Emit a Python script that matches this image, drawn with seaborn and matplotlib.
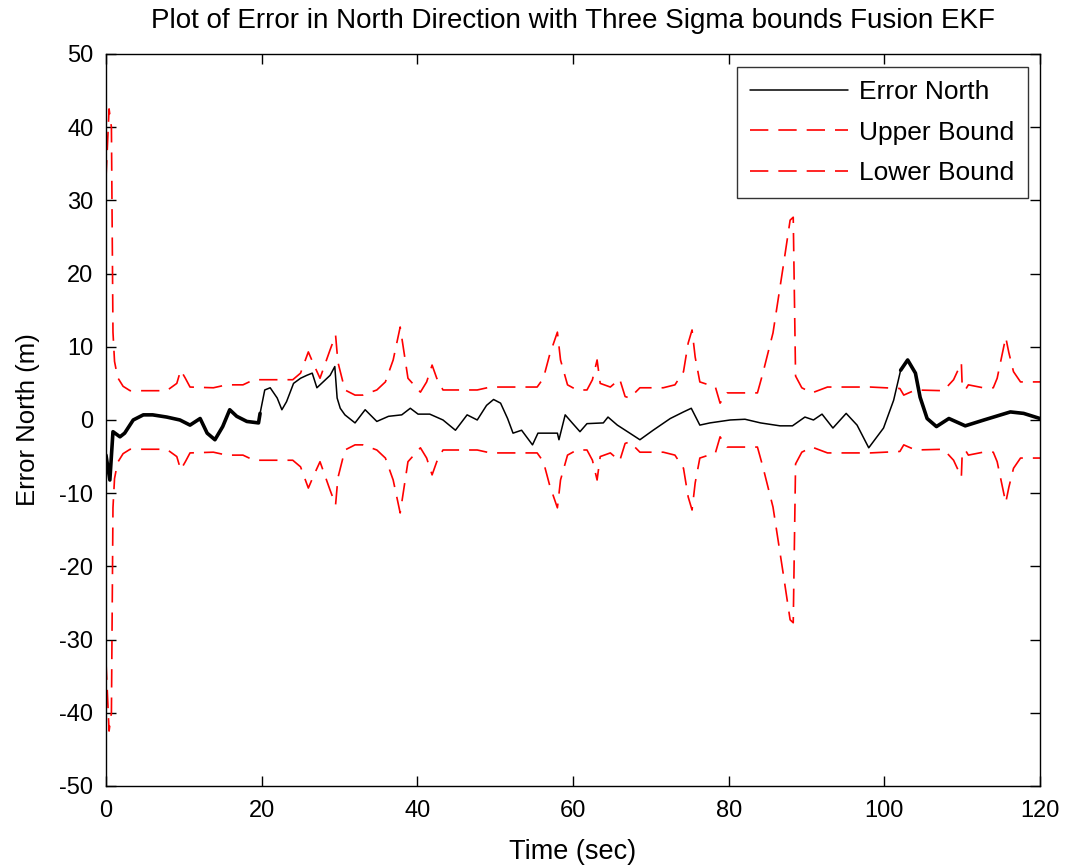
import numpy as np
import pandas as pd
import matplotlib
matplotlib.use("Agg")
import matplotlib.pyplot as plt
import seaborn as sns

# error in north direction (m)
t_err = [0, 0.5, 0.9, 1.8, 2.4, 3.5, 4.8, 6.0, 7.8, 9.5, 10.8, 12.1, 13.0, 14.0, 15.0,
         15.9, 16.8, 18.1, 19.6, 19.8, 20.4, 21.1, 22.0, 22.6, 23.2, 24.1, 25.0, 25.8,
         26.5, 27.1, 27.9, 28.8, 29.4, 29.7, 30.1, 30.7, 32.0, 33.3, 34.8, 36.3, 38.0,
         39.1, 40.1, 41.6, 43.3, 44.9, 46.4, 47.7, 48.9, 49.8, 50.7, 51.6, 52.3, 53.4,
         54.8, 55.5, 58.0, 58.2, 59.0, 59.9, 60.9, 61.8, 63.9, 64.5, 65.7, 67.3, 68.6,
         70.3, 72.5, 74.2, 75.2, 76.3, 77.6, 80.2, 82.1, 84.1, 86.6, 88.2, 89.8, 90.9,
         92.0, 93.4, 95.1, 96.5, 98.0, 99.9, 101.2, 102.1, 103.0, 104.0, 104.6, 105.5,
         106.7, 108.3, 110.4, 112.8, 116.2, 117.9, 120.0]
err_north = [-4.8, -8.2, -1.6, -2.3, -1.8, 0.0, 0.7, 0.7, 0.4, 0.0, -0.7, 0.2, -1.8, -2.7, -0.9,
             1.4, 0.5, -0.2, -0.4, 0.9, 4.1, 4.4, 3.0, 1.4, 2.5, 5.0, 5.7, 6.1,
             6.4, 4.4, 5.2, 6.1, 7.3, 3.0, 1.6, 0.7, -0.4, 1.4, -0.2, 0.5, 0.7,
             1.6, 0.8, 0.8, 0.0, -1.4, 0.7, 0.0, 2.0, 2.8, 2.3, 0.2, -1.8, -1.4,
             -3.4, -1.8, -1.8, -2.7, 0.7, -0.4, -1.6, -0.5, -0.4, 0.4, -0.7, -1.8, -2.7,
             -1.4, 0.2, 1.1, 1.6, -0.7, -0.4, 0.0, 0.1, -0.4, -0.8, -0.8, 0.4, 0.0,
             0.8, -1.1, 0.9, -0.7, -3.8, -1.1, 2.7, 6.8, 8.2, 6.4, 3.1, 0.2,
             -0.9, 0.2, -0.8, 0.0, 1.1, 0.9, 0.2]

# three sigma bounds
t_bound = [0, 0.4, 0.7, 0.9, 1.1, 1.5, 2.2, 3.1, 7.8, 9.1, 9.6, 10.2, 10.8, 13.8, 15.5,
           17.6, 19.0, 20.7, 24.0, 25.0, 26.0, 26.6, 27.5, 28.8, 29.5, 29.8, 30.7, 32.0,
           33.0, 34.8, 35.9, 36.9, 37.8, 38.4, 38.8, 40.4, 41.2, 41.9, 42.5, 43.3, 47.7,
           49.4, 55.4, 56.2, 57.0, 58.0, 58.4, 59.3, 60.5, 61.8, 62.5, 63.1, 63.5, 64.8,
           66.0, 66.7, 67.3, 68.6, 71.6, 73.1, 74.2, 74.8, 75.3, 75.7, 76.3, 78.3, 78.9,
           79.8, 83.7, 84.4, 85.7, 87.0, 87.9, 88.3, 88.6, 89.4, 90.7, 92.7, 98.2, 102.0,
           102.5, 104.0, 107.6, 108.9, 109.9, 110.0, 110.4, 110.8, 112.7, 114.0, 114.5,
           115.6, 116.0, 116.6, 117.5, 120.0]
upper_bound = [33, 42.5, 40, 12, 8, 5.8, 4.6, 4.0, 4.0, 5.0, 6.8, 5.7, 4.5, 4.4, 4.8,
               4.8, 5.5, 5.5, 5.5, 6.4, 9.3, 7.8, 5.7, 9.6, 11.6, 7.9, 4.1, 3.4,
               3.4, 4.1, 5.2, 8.2, 12.7, 8.5, 5.7, 3.8, 5.2, 7.5, 5.7, 4.1, 4.1,
               4.5, 4.5, 5.7, 8.9, 12.0, 8.2, 4.8, 4.1, 4.1, 5.5, 8.2, 5.0, 4.5,
               5.6, 3.2, 3.0, 4.4, 4.4, 4.8, 6.6, 10.5, 12.3, 8.6, 5.2, 4.5, 2.3,
               3.7, 3.7, 6.4, 11.9, 20.9, 27.3, 27.7, 6.0, 4.4, 3.7, 4.5, 4.5, 4.3,
               3.4, 4.1, 4.0, 5.5, 7.8, 4.8, 4.1, 4.8, 4.4, 4.4, 5.7,
               11.3, 9.2, 6.6, 5.2, 5.2]
lower_bound = [-33, -42.5, -40, -12, -8, -5.8, -4.6, -4.0, -4.0, -5.0, -6.8, -5.7, -4.5, -4.4, -4.8,
               -4.8, -5.5, -5.5, -5.5, -6.4, -9.3, -7.8, -5.7, -9.6, -11.6, -7.9, -4.1, -3.4,
               -3.4, -4.1, -5.2, -8.2, -12.7, -8.5, -5.7, -3.8, -5.2, -7.5, -5.7, -4.1, -4.1,
               -4.5, -4.5, -5.7, -8.9, -12.0, -8.2, -4.8, -4.1, -4.1, -5.5, -8.2, -5.0, -4.5,
               -5.6, -3.2, -3.0, -4.4, -4.4, -4.8, -6.6, -10.5, -12.3, -8.6, -5.2, -4.5, -2.3,
               -3.7, -3.7, -6.4, -11.9, -20.9, -27.3, -27.7, -6.0, -4.4, -3.7, -4.5, -4.5, -4.3,
               -3.4, -4.1, -4.0, -5.5, -7.8, -4.8, -4.1, -4.8, -4.4, -4.4, -5.7,
               -11.3, -9.2, -6.6, -5.2, -5.2]

err_df = pd.DataFrame({"t": t_err, "err": err_north})
bound_df = pd.DataFrame({"t": t_bound, "upper": upper_bound, "lower": lower_bound})

sns.set_style("white")
plt.rcParams["font.family"] = ["Liberation Sans", "DejaVu Sans"]
plt.rcParams["axes.unicode_minus"] = False
for key in ["text.color", "axes.labelcolor", "xtick.color", "ytick.color"]:
    plt.rcParams[key] = "black"

fig = plt.figure(figsize=(10.65, 8.68), dpi=100)
ax = fig.add_axes([0.0995, 0.0945, 0.877, 0.8433])

sns.lineplot(data=err_df, x="t", y="err", ax=ax, color="black", linewidth=1.1,
             label="Error North", estimator=None, sort=False)
# the noisy parts of the trace look thicker in the original
early = err_df[err_df["t"] <= 19.8]
late = err_df[err_df["t"] >= 102]
for part in [early, late]:
    sns.lineplot(data=part, x="t", y="err", ax=ax, color="black", linewidth=2.6,
                 estimator=None, sort=False, legend=False)
sns.lineplot(data=bound_df, x="t", y="upper", ax=ax, color="red", linewidth=1.2,
             label="Upper Bound", estimator=None, sort=False)
sns.lineplot(data=bound_df, x="t", y="lower", ax=ax, color="red", linewidth=1.2,
             label="Lower Bound", estimator=None, sort=False)
for ln in ax.lines[3:]:
    ln.set_dashes((11, 6))

ax.set_xlim(0, 120)
ax.set_ylim(-50, 50)
ax.set_xticks(np.arange(0, 121, 20))
ax.set_yticks(np.arange(-50, 51, 10))
ax.tick_params(direction="in", length=7, width=1, labelsize=17, top=True, right=True,
               bottom=True, left=True)
ax.tick_params(axis="x", pad=10)
ax.tick_params(axis="y", pad=9)
for s in ax.spines.values():
    s.set_color("black")
    s.set_linewidth(1)

ax.set_title("Plot of Error in North Direction with Three Sigma bounds Fusion EKF",
             fontsize=20, pad=19)
ax.set_xlabel("Time (sec)", fontsize=19.5, labelpad=12)
ax.set_ylabel("Error North (m)", fontsize=18.5, labelpad=14)

leg = ax.legend(loc="upper right", fontsize=19, frameon=True, fancybox=False,
                handlelength=3.7, handletextpad=0.45, labelspacing=0.62, borderpad=0.5,
                borderaxespad=0, bbox_to_anchor=(0.987, 0.982))
leg.get_frame().set_edgecolor("black")
leg.get_frame().set_linewidth(1)
for h in leg.get_lines()[1:]:
    h.set_dashes((11, 6))

fig.savefig("out.png", dpi=100)
